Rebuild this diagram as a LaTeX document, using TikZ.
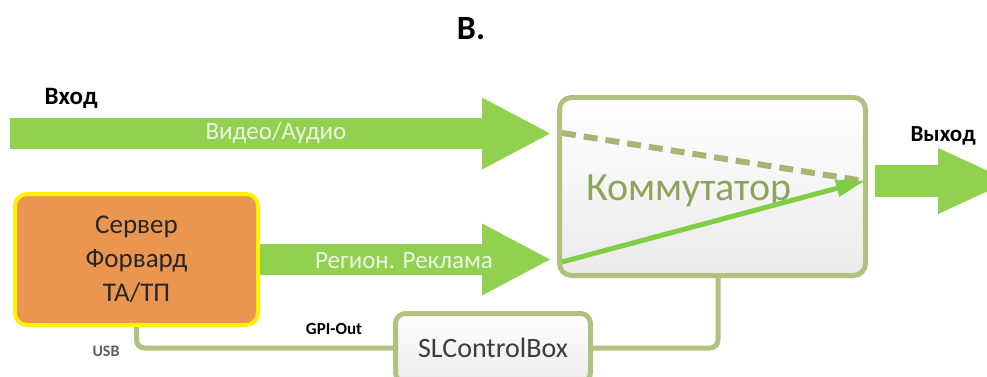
\documentclass[tikz,border=0pt]{standalone}
\usepackage{fontspec}
\setmainfont{Carlito}
\definecolor{flowGreen}{RGB}{146,208,80}
\definecolor{flowText}{RGB}{236,246,226}
\definecolor{boxOlive}{RGB}{176,194,128}
\definecolor{dashOlive}{RGB}{166,183,116}
\definecolor{kommText}{RGB}{140,165,90}
\definecolor{swGreen}{RGB}{128,206,70}
\definecolor{srvOrange}{RGB}{235,150,80}
\definecolor{srvYellow}{RGB}{255,242,0}
\definecolor{darkText}{RGB}{60,60,60}
\definecolor{usbGray}{RGB}{95,95,95}
\usetikzlibrary{positioning, calc, arrows.meta}

\begin{document}
\begin{tikzpicture}[
    x=1pt, y=-1pt,
    flow/.style={line width=31pt, flowGreen, -{Triangle[length=68pt, width=72pt, line width=0pt]}},
    outflow/.style={line width=32pt, flowGreen, -{Triangle[length=72pt, width=66pt, line width=0pt]}},
    flowtext/.style={text=flowText, font=\fontsize{25}{29}\selectfont},
    unitbox/.style={rounded corners=12pt, line width=5pt, draw=boxOlive, top color=white, bottom color=black!8},
    srvbox/.style={rounded corners=12pt, line width=4pt, draw=srvYellow, fill=srvOrange, align=center,
      font=\fontsize{27}{34}\selectfont, text=black!85},
    ctrl/.style={line width=5pt, boxOlive, rounded corners=8pt},
    tag/.style={font=\bfseries\fontsize{17}{20}\selectfont},
  ]
    \path[use as bounding box, clip] (0,0) rectangle (987,377);
    % title
    \node[font=\bfseries\fontsize{34}{38}\selectfont, anchor=base] (title) at (471,40) {В.};
    % switch
    \node[unitbox, minimum width=306pt, minimum height=178pt] (komm) at (712.5,186.5) {};
    \node[text=kommText, font=\fontsize{40}{44}\selectfont, anchor=base] (kommlbl) at (689,200) {Коммутатор};
    % server
    \node[srvbox, minimum width=243pt, minimum height=131pt] (srv) at (136.5,259.5) {Сервер\\Форвард\\ТА/ТП};
    % control box
    \node[unitbox, rounded corners=10pt, minimum width=195pt, minimum height=69pt,
      text=darkText, font=\fontsize{28}{32}\selectfont] (slbox) at (493,348) {SLControlBox};
    % input stream
    \node[font=\bfseries\fontsize{25}{29}\selectfont, anchor=base west] (inlbl) at (41,105) {Вход};
    \coordinate (vin) at (10,133.5);
    \draw[flow] (vin) -- ([xshift=-7pt]vin -| komm.west);
    \node[flowtext] (vidlbl) at (276,133) {Видео/Аудио};
    % regional ads
    \draw[flow] (srv.east) -- ([xshift=-7pt]srv.east -| komm.west);
    \node[flowtext] (advlbl) at (404,261) {Регион. Реклама};
    % output
    \node[font=\bfseries\fontsize{23}{27}\selectfont, anchor=base west] (outlbl) at (907,142) {Выход};
    \coordinate (vout) at (1010,181);
    \draw[outflow] ([xshift=7pt]vout -| komm.east) -- (vout);
    % inside the switch
    \coordinate (swa) at (562,133);
    \coordinate (swb) at (562,262);
    \coordinate (swout) at (864,181);
    \draw[dashOlive, line width=6pt, dash pattern=on 14pt off 8pt] (swa) -- (swout);
    \draw[swGreen, line width=5pt, -{Triangle[length=28pt, width=18pt, line width=0pt]}] (swb) -- (swout);
    % control lines
    \draw[ctrl] (srv.south) |- (slbox.west);
    \draw[ctrl] (slbox.east) -| ([xshift=5.5pt]komm.south);
    \node[tag] (gpilbl) at (334,329) {GPI-Out};
    \node[tag, text=usbGray, font=\bfseries\fontsize{16}{19}\selectfont] (usblbl) at (106,351) {USB};
  \end{tikzpicture}
\end{document}
